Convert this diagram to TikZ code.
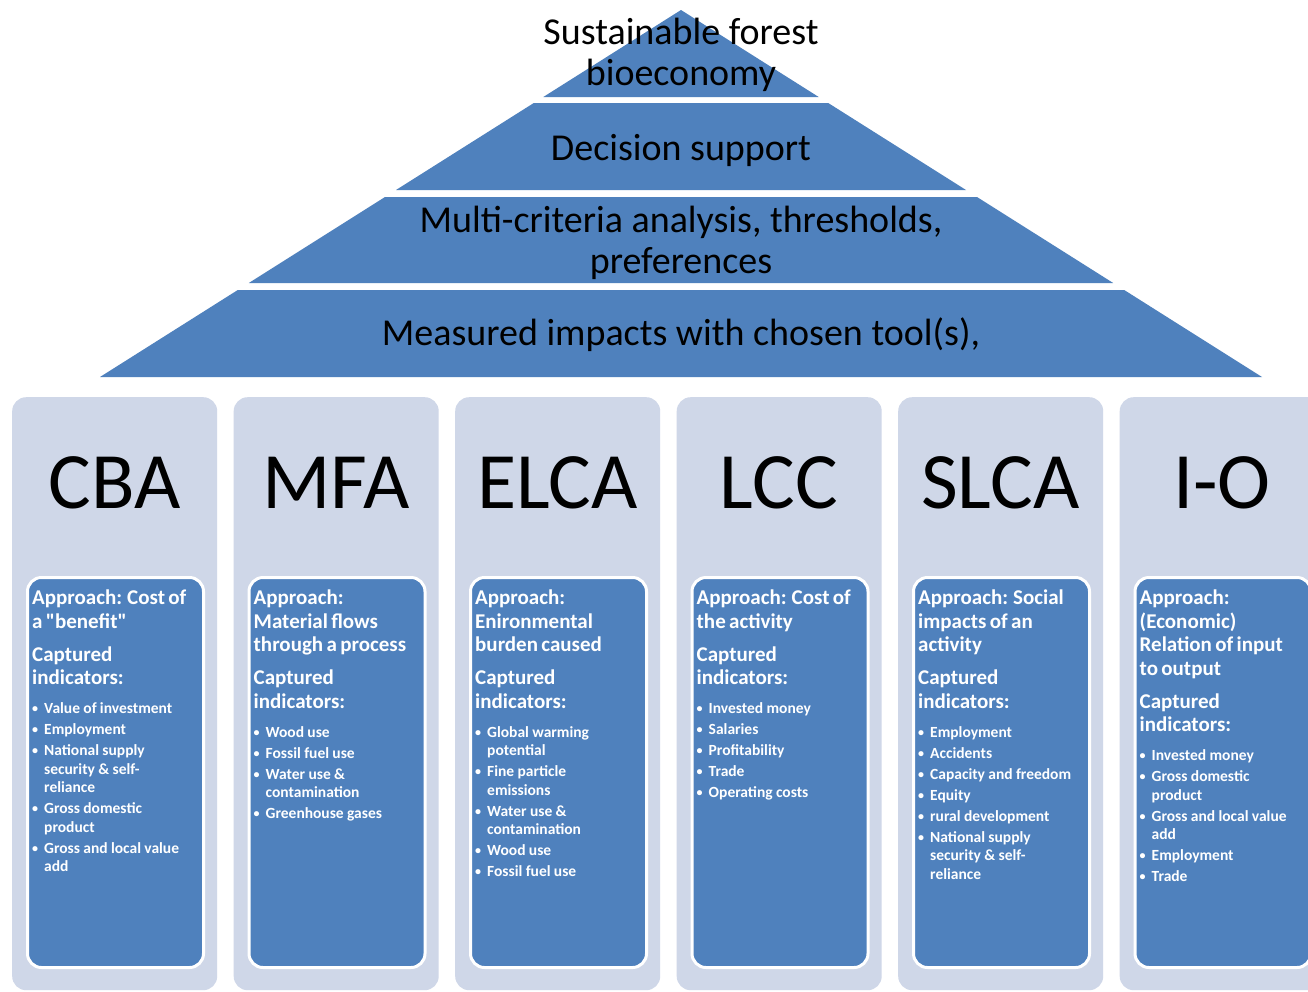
\documentclass[tikz,border=0pt]{standalone}
\usepackage{fontspec}
\setmainfont{Carlito}[Ligatures=TeXOff]
\definecolor{tierblue}{RGB}{79,129,189}
\definecolor{colbg}{RGB}{207,215,232}

% text helpers for the tool boxes
\newcommand\brk{\hfil\break}
\newcommand\apprtext[1]{{\fontsize{21}{23.5}\selectfont\bfseries #1\par}}
\newcommand\capttext{\vspace{9.5pt}{\fontsize{21}{23.5}\selectfont\bfseries Captured\\indicators:\par}\vspace{10.5pt}}
\newcommand\bulitem[1]{{\fontsize{15.5}{18.5}\selectfont\bfseries\hangindent=12pt\hangafter=1\noindent\makebox[12pt][l]{\raisebox{1pt}{\fontsize{12}{12}\selectfont\textbullet}}#1\par}\vspace{2.5pt}}

% one tool column: #1 left x, #2 name, #3 title, #4 body
\newcommand\toolcol[4]{%
  \node[outerbox] (#2-o) at (#1,397) {};
  \node[innerbox] (#2-i) at (#1+14,576) {};
  \node[titletext] (#2-t) at (#1+102.5,508) {#3};
  \node[bodytext] (#2-b) at (#1+20,590) {#4};
}

\begin{document}
\begin{tikzpicture}[x=1pt,y=-1pt,
  tier/.style={fill=tierblue},
  ptext/.style={font=\fontsize{38}{41}\selectfont, text=black, align=center, inner sep=0},
  outerbox/.style={anchor=north west, fill=colbg, rounded corners=14, minimum width=205, minimum height=593, inner sep=0},
  innerbox/.style={anchor=north west, fill=tierblue, draw=white, line width=3, rounded corners=14, minimum width=176, minimum height=390, inner sep=0},
  titletext/.style={anchor=base, font=\fontsize{80}{90}\selectfont, text=black, inner sep=0},
  bodytext/.style={anchor=north west, text=white, text width=178, align=left, inner sep=0},
]
\useasboundingbox (0,0) rectangle (1308,991);
\clip (0,0) rectangle (1308,991);
\fill[white] (0,0) rectangle (1308,991);

% pyramid, four slices of one triangle with apex (681,10)
\fill[tier] (681,10) -- (818.7,97) -- (543.3,97) -- cycle;
\fill[tier] (533.8,103) -- (828.2,103) -- (966,190) -- (396,190) -- cycle;
\fill[tier] (385,197) -- (977,197) -- (1113.2,283) -- (248.8,283) -- cycle;
\fill[tier] (237.8,290) -- (1124.2,290) -- (1262,377) -- (100,377) -- cycle;

\node[ptext] (goal) at (681,55) {Sustainable forest\\bioeconomy};
\node[ptext] (decision) at (681,150) {Decision support};
\node[ptext] (mca) at (681,243) {Multi-criteria analysis, thresholds,\\preferences};
\node[ptext] (measured) at (681,335) {Measured impacts with chosen tool(s),};

\toolcol{12}{cba}{CBA}{%
  \apprtext{Approach: Cost of\\a "benefit"}\capttext
  \bulitem{Value of investment}
  \bulitem{Employment}
  \bulitem{National supply\brk security \& self-\brk reliance}
  \bulitem{Gross domestic\brk product}
  \bulitem{Gross and local value\brk add}}

\toolcol{233.5}{mfa}{MFA}{%
  \apprtext{Approach:\\Material flows\\through a process}\capttext
  \bulitem{Wood use}
  \bulitem{Fossil fuel use}
  \bulitem{Water use \&\brk contamination}
  \bulitem{Greenhouse gases}}

\toolcol{455}{elca}{ELCA}{%
  \apprtext{Approach:\\Enironmental\\burden caused}\capttext
  \bulitem{Global warming\brk potential}
  \bulitem{Fine particle\brk emissions}
  \bulitem{Water use \&\brk contamination}
  \bulitem{Wood use}
  \bulitem{Fossil fuel use}}

\toolcol{676.5}{lcc}{LCC}{%
  \apprtext{Approach: Cost of\\the activity}\capttext
  \bulitem{Invested money}
  \bulitem{Salaries}
  \bulitem{Profitability}
  \bulitem{Trade}
  \bulitem{Operating costs}}

\toolcol{898}{slca}{SLCA}{%
  \apprtext{Approach: Social\\impacts of an\\activity}\capttext
  \bulitem{Employment}
  \bulitem{Accidents}
  \bulitem{Capacity and freedom}
  \bulitem{Equity}
  \bulitem{rural development}
  \bulitem{National supply\brk security \& self-\brk reliance}}

\toolcol{1119.5}{io}{I-O}{%
  \apprtext{Approach:\\(Economic)\\Relation of input\\to output}\capttext
  \bulitem{Invested money}
  \bulitem{Gross domestic\brk product}
  \bulitem{Gross and local value\brk add}
  \bulitem{Employment}
  \bulitem{Trade}}
\end{tikzpicture}
\end{document}
